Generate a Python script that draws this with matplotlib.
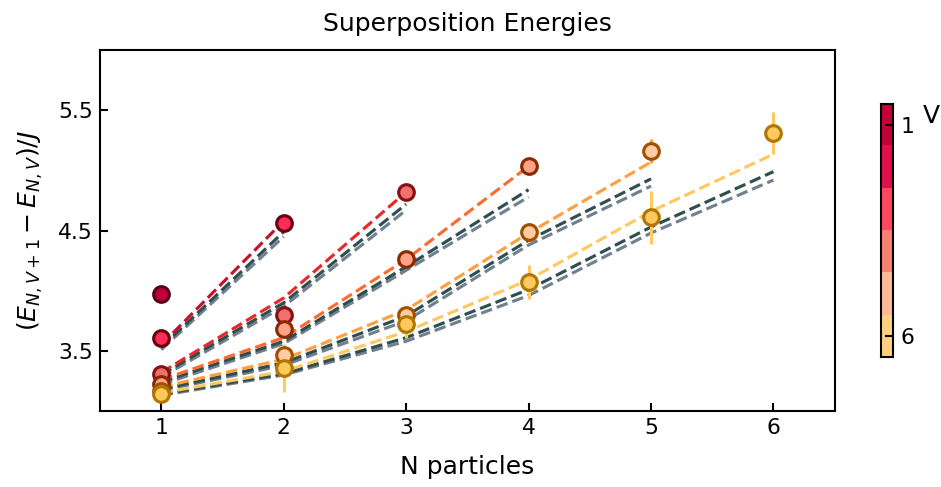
import numpy as np
import matplotlib
matplotlib.use('Agg')
import matplotlib.pyplot as plt
from matplotlib.colors import ListedColormap

n_particles = [1, 2, 3, 4, 5, 6]
v_levels = [1, 2, 3, 4, 5, 6]

# measured gaps, one list per V (N = 1..V)
energy = {
    1: [3.97],
    2: [3.61, 4.565],
    3: [3.31, 3.80, 4.82],
    4: [3.225, 3.68, 4.26, 5.035],
    5: [3.165, 3.465, 3.80, 4.485, 5.16],
    6: [3.145, 3.355, 3.72, 4.075, 4.61, 5.31],
}
energy_err = {
    1: [0.01],
    2: [0.01, 0.01],
    3: [0.01, 0.01, 0.01],
    4: [0.01, 0.01, 0.02, 0.02],
    5: [0.01, 0.02, 0.05, 0.08, 0.10],
    6: [0.02, 0.20, 0.11, 0.14, 0.22, 0.175],
}

# model curves (coloured = first model, two greys = the others)
model_a = {
    2: [3.55, 4.58],
    3: [3.32, 3.94, 4.82],
    4: [3.26, 3.61, 4.26, 5.035],
    5: [3.20, 3.43, 3.84, 4.48, 5.07],
    6: [3.15, 3.33, 3.66, 4.09, 4.66, 5.135],
}
model_b = {
    2: [3.53, 4.49],
    3: [3.30, 3.90, 4.72],
    4: [3.24, 3.58, 4.20, 4.84],
    5: [3.18, 3.40, 3.79, 4.42, 4.93],
    6: [3.14, 3.31, 3.61, 4.01, 4.53, 4.99],
}
model_c = {
    2: [3.51, 4.45],
    3: [3.28, 3.87, 4.67],
    4: [3.22, 3.56, 4.17, 4.78],
    5: [3.17, 3.38, 3.75, 4.38, 4.87],
    6: [3.13, 3.30, 3.58, 3.96, 4.48, 4.92],
}

line_colors = {2: '#c8102e', 3: '#e8282a', 4: '#ff6a30', 5: '#ffa040', 6: '#ffc860'}
face_colors = {1: '#c0003a', 2: '#ff2d55', 3: '#f07070', 4: '#ffa285', 5: '#ffcba4', 6: '#ffc95e'}
edge_colors = {1: '#5a0018', 2: '#6a0010', 3: '#8a1010', 4: '#8a2a00', 5: '#a05000', 6: '#b07800'}
cbar_colors = ['#c2003a', '#e0104a', '#ff4560', '#f88070', '#ffb898', '#ffd080']

fig = plt.figure(figsize=(941/150, 487/150), dpi=150)
ax = fig.add_axes([0.1063, 0.156, 0.7807, 0.741])

for v in v_levels:
    ns = n_particles[:v]
    if v in model_a:
        ax.plot(ns, model_c[v], '--', color='#708090', lw=1.5, zorder=1)
        ax.plot(ns, model_b[v], '--', color='#2f4f4f', lw=1.5, zorder=1.1)
        ax.plot(ns, model_a[v], '--', color=line_colors[v], lw=1.5, zorder=1.2)
    ecol = line_colors.get(v, face_colors[v])
    ax.errorbar(ns, energy[v], yerr=energy_err[v], fmt='none', ecolor=ecol,
                elinewidth=1.5, capsize=0, zorder=2)
    ax.plot(ns, energy[v], 'o', ms=7.5, mfc=face_colors[v], mec=edge_colors[v],
            mew=1.5, ls='none', zorder=3)

ax.set_xlim(0.5, 6.5)
ax.set_ylim(3.0, 6.0)
ax.set_xticks(n_particles)
ax.set_yticks([3.5, 4.5, 5.5])
ax.tick_params(direction='in', labelsize=10.5, length=4, width=1)
for s in ax.spines.values():
    s.set_linewidth(1)
ax.set_xlabel('N particles', fontsize=12, labelpad=8)
ax.set_ylabel(r'$(E_{N,V+1} - E_{N,V})/J$', fontsize=12, labelpad=6)
ax.set_title('Superposition Energies', fontsize=12, pad=9)

# discrete colour bar for V
cax = fig.add_axes([0.9363, 0.267, 0.0128, 0.52])
cmap = ListedColormap(cbar_colors)
cax.imshow(np.array(v_levels).reshape(-1, 1), cmap=cmap, aspect='auto',
           interpolation='nearest', extent=(0, 1, 6.5, 0.5))
cax.set_xticks([])
cax.set_ylim(6.5, 0.5)
cax.yaxis.tick_right()
cax.set_yticks([1, 6])
cax.tick_params(direction='in', labelsize=10.5, length=4, width=1)
for s in cax.spines.values():
    s.set_linewidth(1)
cax.text(3.5, 0.95, 'V', transform=cax.transAxes, fontsize=12, va='center', ha='left')

fig.savefig('out.png', dpi=150)
